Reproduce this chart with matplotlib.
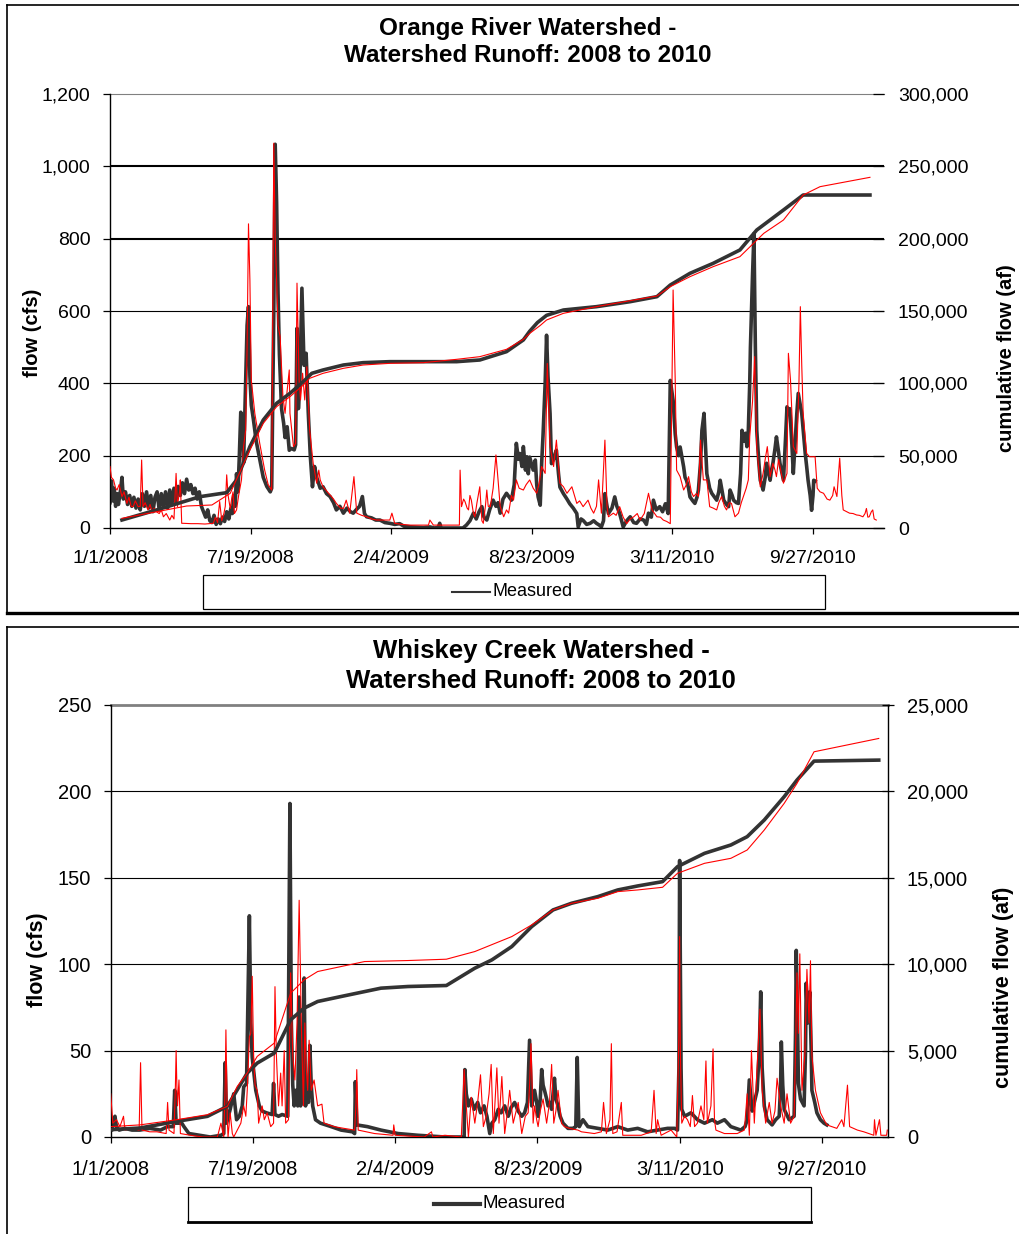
import datetime as dt
import matplotlib
matplotlib.use("Agg")
import matplotlib.pyplot as plt
from matplotlib.lines import Line2D
from matplotlib.patches import Rectangle

plt.rcParams["font.family"] = ["Liberation Sans", "DejaVu Sans"]

W, H = 1019, 1234
DARK = "#333333"
RED = "#ff0000"

START = dt.date(2008, 1, 1)
date_labels = ["1/1/2008", "7/19/2008", "2/4/2009", "8/23/2009", "3/11/2010", "9/27/2010"]

# ---------------- Orange River (day offset from 1/1/2008, value) ----------------
orange_flow_ticks = [0, 200, 400, 600, 800, 1000, 1200]
orange_cum_ticks = [0, 50000, 100000, 150000, 200000, 250000, 300000]

orange_measured = [
    (0, 70), (2, 130), (4, 75), (6, 110), (8, 60), (10, 95), (12, 65), (15, 105), (17, 140), (19, 80),
    (22, 100), (25, 65), (28, 90), (31, 60), (34, 85), (37, 55), (40, 80), (43, 50), (46, 95), (49, 60),
    (52, 100), (55, 55), (58, 90), (61, 45), (64, 85), (67, 100), (70, 50), (73, 95), (76, 60), (79, 100),
    (82, 55), (85, 105), (88, 65), (91, 110), (94, 70), (97, 115), (100, 90), (103, 125), (106, 95),
    (109, 135), (112, 105), (115, 120), (118, 95), (121, 110), (124, 80), (127, 100), (130, 60), (133, 45),
    (136, 30), (139, 50), (142, 20), (145, 15), (148, 35), (151, 10), (154, 25), (157, 12), (160, 30),
    (163, 18), (166, 45), (169, 25), (172, 55), (174, 40), (176, 90), (178, 60), (180, 150), (182, 100),
    (184, 200), (186, 320), (188, 300), (190, 180), (192, 330), (195, 560), (197, 612), (199, 420),
    (201, 340), (204, 300), (208, 240), (213, 190), (218, 140), (223, 115), (228, 100), (230, 110),
    (233, 600), (235, 1061), (237, 900), (239, 650), (241, 480), (244, 330), (247, 290), (249, 250),
    (252, 280), (255, 215), (258, 220), (262, 216), (264, 230), (266, 552), (268, 330), (270, 400),
    (273, 663), (276, 450), (279, 483), (282, 320), (285, 197), (288, 114), (291, 170), (294, 140),
    (299, 110), (303, 114), (308, 95), (313, 87), (318, 70), (322, 50), (327, 60), (332, 41), (337, 55),
    (342, 45), (346, 41), (350, 50), (355, 60), (359, 87), (362, 40), (365, 31), (372, 28), (378, 22),
    (384, 22), (391, 15), (398, 13), (405, 10), (412, 12), (418, 5), (422, 4), (430, 3), (438, 2),
    (446, 1), (455, 3), (462, 0), (467, 2), (469, 13), (471, 0), (480, 0), (490, 0), (502, 0), (507, 8),
    (512, 20), (517, 41), (521, 25), (525, 45), (529, 59), (532, 30), (536, 22), (540, 50), (545, 77),
    (549, 60), (552, 70), (555, 41), (559, 80), (564, 96), (568, 85), (571, 77), (575, 120), (578, 234),
    (581, 190), (583, 206), (586, 170), (588, 225), (591, 160), (593, 197), (595, 150), (597, 196),
    (600, 175), (602, 160), (605, 188), (607, 120), (609, 86), (612, 63), (614, 178), (616, 257),
    (619, 400), (621, 533), (623, 420), (626, 316), (628, 178), (631, 190), (633, 205), (635, 215),
    (638, 150), (640, 113), (645, 95), (650, 80), (654, 67), (659, 55), (664, 40), (666, 3), (670, 25),
    (673, 21), (678, 10), (683, 13), (688, 20), (692, 13), (696, 8), (699, 3), (702, 20), (704, 95),
    (707, 60), (709, 40), (714, 55), (718, 86), (721, 60), (725, 40), (730, 3), (735, 20), (740, 31),
    (745, 15), (749, 13), (754, 25), (759, 22), (763, 10), (766, 41), (770, 30), (773, 77), (777, 50),
    (782, 59), (786, 45), (790, 67), (794, 40), (797, 408), (799, 380), (801, 353), (804, 260), (806, 224),
    (809, 200), (811, 224), (814, 190), (816, 169), (818, 140), (820, 132), (823, 110), (825, 86),
    (829, 75), (832, 68), (835, 85), (837, 105), (840, 180), (842, 270), (845, 317), (847, 230), (849, 150),
    (853, 110), (856, 96), (860, 85), (863, 77), (866, 100), (868, 132), (871, 100), (873, 77), (877, 65),
    (880, 59), (882, 105), (885, 90), (887, 77), (891, 70), (894, 68), (897, 150), (899, 270), (902, 240),
    (904, 262), (906, 225), (908, 270), (910, 400), (911, 500), (914, 700), (916, 814), (918, 500),
    (920, 270), (923, 180), (925, 132), (927, 120), (929, 105), (932, 140), (934, 179), (937, 150),
    (939, 132), (941, 160), (943, 179), (946, 220), (948, 252), (951, 210), (953, 179), (956, 150),
    (958, 132), (961, 250), (963, 335), (965, 320), (967, 330), (970, 230), (972, 151), (975, 250),
    (977, 317), (979, 372), (982, 340), (984, 317), (987, 250), (989, 205), (991, 170), (993, 132),
    (996, 90), (998, 49), (1000, 90), (1001, 132), (1003, 130),
]

orange_simulated = [
    (0, 170), (2, 140), (5, 133), (8, 110), (10, 105), (13, 120), (17, 87), (20, 100), (24, 68), (27, 85),
    (30, 60), (33, 59), (36, 75), (40, 59), (43, 60), (45, 188), (47, 59), (50, 70), (54, 50), (57, 65),
    (60, 45), (63, 55), (66, 45), (70, 40), (73, 50), (76, 31), (80, 40), (85, 22), (88, 35), (91, 25),
    (94, 151), (96, 60), (97, 77), (99, 100), (100, 133), (102, 13), (104, 13), (115, 12), (125, 12),
    (135, 11), (142, 12), (147, 13), (150, 30), (153, 15), (156, 73), (159, 20), (162, 40), (164, 60),
    (166, 147), (168, 90), (171, 54), (173, 80), (175, 100), (177, 40), (180, 50), (183, 90), (187, 133),
    (190, 225), (193, 271), (195, 500), (197, 841), (199, 686), (201, 409), (206, 317), (213, 234),
    (220, 160), (225, 120), (230, 105), (233, 1064), (235, 800), (237, 686), (239, 560), (242, 529),
    (246, 363), (249, 317), (252, 380), (255, 437), (256, 317), (261, 225), (264, 234), (266, 677),
    (269, 409), (271, 354), (274, 428), (277, 354), (280, 446), (284, 271), (289, 179), (294, 124),
    (297, 160), (299, 133), (303, 114), (311, 96), (318, 80), (322, 68), (328, 55), (332, 54), (336, 77),
    (341, 41), (347, 142), (351, 41), (358, 35), (365, 31), (372, 25), (379, 22), (390, 22), (398, 22),
    (401, 41), (405, 13), (415, 10), (427, 8), (440, 8), (453, 8), (455, 22), (460, 8), (475, 8), (493, 8),
    (497, 8), (498, 160), (500, 59), (503, 80), (505, 73), (508, 55), (510, 50), (512, 90), (514, 77),
    (517, 40), (519, 31), (522, 70), (526, 114), (529, 20), (531, 13), (534, 60), (536, 105), (538, 60),
    (541, 59), (545, 110), (549, 202), (552, 133), (555, 60), (560, 31), (564, 50), (567, 41), (571, 90),
    (574, 77), (578, 133), (582, 110), (588, 105), (592, 120), (597, 133), (602, 110), (607, 96),
    (611, 130), (614, 170), (619, 151), (622, 455), (626, 225), (631, 170), (635, 243), (640, 124),
    (645, 114), (650, 96), (657, 114), (664, 68), (668, 75), (673, 59), (680, 77), (684, 55), (688, 41),
    (692, 60), (695, 133), (699, 41), (704, 243), (707, 60), (709, 31), (716, 41), (720, 35), (725, 59),
    (730, 30), (735, 12), (740, 25), (745, 31), (750, 40), (754, 22), (760, 40), (766, 96), (771, 50),
    (778, 31), (783, 30), (787, 22), (792, 18), (797, 12), (801, 658), (804, 409), (806, 160), (811, 142),
    (816, 105), (820, 120), (823, 142), (827, 100), (830, 87), (834, 95), (837, 87), (840, 243), (844, 133),
    (849, 133), (853, 59), (858, 55), (863, 50), (866, 70), (870, 87), (874, 60), (877, 50), (881, 70),
    (884, 68), (889, 31), (894, 41), (898, 70), (901, 87), (905, 110), (908, 133), (910, 253), (914, 350),
    (917, 474), (920, 225), (925, 114), (929, 151), (932, 190), (935, 225), (939, 142), (943, 179),
    (946, 160), (948, 142), (951, 190), (953, 170), (956, 140), (958, 124), (963, 151), (965, 483),
    (968, 409), (972, 225), (977, 206), (980, 400), (982, 612), (984, 450), (986, 317), (991, 206),
    (995, 197), (1003, 197), (1006, 110), (1010, 100), (1015, 96), (1020, 80), (1024, 77), (1028, 90),
    (1030, 114), (1034, 87), (1038, 193), (1041, 90), (1043, 50), (1048, 45), (1052, 41), (1057, 40),
    (1062, 36), (1066, 35), (1071, 31), (1074, 40), (1076, 54), (1078, 30), (1080, 31), (1083, 45),
    (1085, 50), (1087, 25), (1090, 22),
]

orange_cum_measured = [
    (17, 5530), (66, 12440), (128, 21660), (166, 24420), (180, 33180), (199, 56220), (218, 74650),
    (237, 86180), (256, 93090), (275, 101150), (287, 106910), (303, 109220), (332, 112670), (360, 114290),
    (398, 114980), (446, 114980), (493, 114980), (526, 116130), (564, 121890), (588, 130000),
    (597, 136000), (608, 142000), (621, 147000), (645, 150690), (692, 153000), (740, 156450),
    (778, 159910), (797, 167970), (825, 176040), (858, 182950), (896, 192170), (920, 205990),
    (958, 219820), (986, 230180), (1081, 230180),
]

orange_cum_simulated = [
    (17, 6680), (109, 15210), (145, 15900), (171, 23960), (199, 53920), (218, 72350), (237, 83870),
    (256, 90780), (275, 98850), (284, 103460), (303, 106910), (332, 110370), (360, 112670), (398, 113820),
    (446, 114290), (493, 116590), (526, 118430), (564, 123500), (588, 130410), (597, 134500),
    (612, 140000), (621, 143780), (645, 148390), (692, 153000), (740, 157140), (778, 160370),
    (797, 166820), (825, 173730), (858, 180650), (896, 187560), (930, 203690), (958, 212900),
    (986, 230180), (1010, 235940), (1081, 242400),
]

# ---------------- Whiskey Creek ----------------
whiskey_flow_ticks = [0, 50, 100, 150, 200, 250]
whiskey_cum_ticks = [0, 5000, 10000, 15000, 20000, 25000]

whiskey_measured = [
    (0, 8), (2, 4), (4, 10), (6, 12), (8, 6), (12, 4), (20, 5), (30, 4), (41, 4), (55, 5), (70, 4), (80, 6),
    (88, 6), (90, 27), (92, 8), (100, 8), (103, 6), (110, 2), (125, 1), (140, 0), (155, 1), (159, 2),
    (161, 43), (163, 8), (168, 16), (173, 25), (177, 10), (181, 12), (185, 18), (187, 29), (191, 31),
    (193, 80), (195, 128), (197, 66), (199, 46), (204, 27), (209, 18), (213, 15), (219, 14), (227, 13),
    (229, 31), (231, 13), (236, 12), (241, 13), (249, 12), (252, 193), (254, 66), (256, 30), (258, 18),
    (260, 27), (263, 18), (265, 81), (267, 18), (270, 27), (272, 92), (274, 18), (276, 27), (278, 20),
    (280, 53), (282, 30), (284, 18), (288, 10), (295, 8), (310, 6), (324, 4), (340, 3), (343, 2), (344, 32),
    (346, 7), (361, 6), (380, 4), (404, 2), (432, 1), (470, 0), (497, 0), (498, 39), (500, 25), (503, 18),
    (507, 22), (511, 16), (516, 20), (520, 14), (525, 18), (529, 12), (533, 2), (536, 8), (540, 10),
    (545, 16), (549, 14), (554, 18), (559, 12), (563, 17), (568, 20), (573, 15), (578, 12), (582, 14),
    (586, 20), (589, 56), (591, 30), (592, 18), (596, 27), (599, 20), (601, 12), (604, 22), (606, 39),
    (608, 30), (610, 27), (613, 22), (615, 18), (618, 20), (620, 16), (622, 25), (624, 34), (626, 22),
    (629, 18), (632, 12), (636, 8), (643, 5), (650, 5), (654, 6), (656, 46), (658, 10), (659, 6), (664, 10),
    (671, 6), (685, 5), (699, 4), (713, 6), (727, 4), (741, 5), (755, 3), (769, 4), (783, 5), (793, 5),
    (797, 4), (799, 40), (800, 160), (802, 40), (803, 16), (807, 12), (816, 14), (825, 10), (835, 8),
    (846, 10), (853, 8), (863, 10), (872, 6), (886, 4), (892, 6), (895, 10), (898, 33), (902, 15),
    (905, 20), (909, 27), (912, 50), (914, 84), (916, 40), (919, 18), (923, 10), (930, 7), (935, 10),
    (940, 12), (942, 30), (943, 55), (945, 30), (947, 16), (954, 10), (961, 12), (963, 60), (964, 108),
    (966, 60), (967, 31), (970, 22), (975, 18), (977, 50), (978, 89), (980, 66), (983, 84), (985, 50),
    (986, 27), (990, 20), (993, 14), (998, 10), (1003, 8), (1007, 7),
]

whiskey_simulated = [
    (0, 25), (3, 8), (8, 10), (13, 6), (18, 12), (20, 4), (30, 5), (40, 4), (42, 43), (44, 4), (55, 3),
    (65, 3), (78, 2), (80, 20), (82, 4), (89, 2), (91, 30), (92, 50), (93, 30), (94, 18), (96, 33), (98, 2),
    (112, 1), (130, 0), (150, 0), (155, 8), (159, 0), (161, 30), (162, 62), (164, 10), (165, 0), (168, 14),
    (171, 2), (173, 0), (178, 4), (183, 8), (187, 18), (190, 12), (192, 27), (195, 58), (197, 60), (199, 93),
    (201, 47), (203, 30), (206, 27), (208, 8), (213, 18), (216, 10), (220, 14), (225, 6), (229, 8),
    (231, 87), (233, 47), (236, 18), (239, 37), (241, 18), (244, 50), (246, 8), (250, 10), (253, 95),
    (256, 47), (259, 33), (262, 66), (265, 137), (268, 66), (271, 18), (273, 66), (275, 40), (277, 27),
    (279, 56), (282, 27), (286, 33), (291, 18), (297, 19), (300, 8), (314, 6), (328, 5), (343, 4), (345, 20),
    (346, 39), (348, 4), (371, 2), (397, 1), (398, 7), (400, 1), (441, 0), (451, 3), (453, 0), (470, 1),
    (493, 0), (497, 39), (500, 18), (503, 0), (507, 23), (512, 8), (516, 20), (520, 36), (524, 6), (528, 12),
    (532, 25), (535, 42), (538, 2), (543, 40), (546, 8), (550, 35), (554, 2), (558, 15), (561, 27), (566, 8),
    (570, 15), (573, 20), (578, 2), (583, 12), (587, 14), (589, 30), (591, 54), (594, 8), (596, 18),
    (599, 10), (601, 6), (604, 15), (608, 22), (613, 8), (617, 20), (620, 42), (623, 8), (626, 15),
    (629, 27), (634, 8), (638, 6), (645, 5), (657, 4), (662, 3), (680, 2), (690, 3), (693, 20), (697, 2),
    (702, 10), (704, 54), (706, 2), (712, 3), (718, 20), (720, 1), (732, 1), (746, 1), (760, 3), (764, 27),
    (767, 2), (769, 10), (774, 1), (788, 4), (796, 0), (799, 60), (800, 116), (801, 50), (803, 8), (807, 12),
    (811, 10), (815, 6), (818, 24), (821, 6), (825, 8), (830, 18), (834, 10), (837, 44), (839, 8), (844, 18),
    (847, 51), (849, 10), (851, 4), (857, 3), (863, 2), (872, 2), (881, 2), (891, 4), (895, 25), (898, 1),
    (901, 50), (905, 8), (909, 41), (913, 74), (916, 27), (921, 8), (926, 20), (930, 8), (934, 15),
    (937, 34), (942, 18), (947, 8), (951, 25), (956, 8), (961, 12), (963, 50), (965, 95), (967, 60),
    (969, 106), (972, 27), (976, 47), (979, 97), (982, 66), (984, 102), (986, 47), (991, 27), (998, 14),
    (1003, 10), (1007, 7), (1014, 6), (1021, 5), (1028, 10), (1031, 6), (1036, 30), (1039, 6), (1050, 4),
    (1059, 3), (1073, 1), (1074, 10), (1076, 1), (1081, 10), (1083, 1), (1091, 1), (1092, 4),
]

whiskey_cum_measured = [
    (0, 424), (41, 520), (93, 906), (136, 1195), (164, 1773), (178, 2736), (192, 3699), (206, 4277),
    (230, 4855), (253, 6782), (272, 7457), (291, 7842), (324, 8131), (380, 8613), (418, 8709),
    (472, 8767), (512, 9769), (536, 10250), (564, 11021), (592, 12177), (622, 13141), (648, 13526),
    (685, 13911), (713, 14297), (741, 14528), (776, 14778), (797, 15645), (835, 16416), (872, 16898),
    (895, 17380), (919, 18343), (947, 19692), (965, 20655), (989, 21753), (1080, 21811),
]

whiskey_cum_simulated = [
    (0, 600), (41, 700), (93, 1002), (136, 1291), (164, 1773), (178, 2929), (192, 3699), (206, 4663),
    (230, 5434), (253, 8324), (272, 9094), (291, 9576), (324, 9865), (357, 10154), (418, 10212),
    (472, 10289), (512, 10732), (564, 11599), (592, 12274), (622, 13141), (648, 13526), (685, 13815),
    (713, 14200), (741, 14297), (776, 14451), (797, 15260), (835, 15838), (872, 16127), (895, 16609),
    (919, 17765), (947, 19306), (965, 20462), (989, 22293), (1080, 23064),
]


def fx(px):
    return px / W


def fy(py):
    return 1 - py / H


date_ticks = [(dt.datetime.strptime(s, "%m/%d/%Y").date() - START).days for s in date_labels]

fig = plt.figure(figsize=(W / 100, H / 100), dpi=100)


def draw_panel(left, top, right, bottom, xmax, flow_ticks, cum_ticks, meas, sim, cmeas, csim,
               heavy_grid, top_grid_lw, right_spine, fs, xpad):
    ax = fig.add_axes([fx(left), fy(bottom), fx(right) - fx(left), fy(top) - fy(bottom)])
    ax.set_xlim(0, xmax)
    ax.set_ylim(0, flow_ticks[-1])
    for v in flow_ticks[1:]:
        if v == flow_ticks[-1]:
            ax.axhline(v, color="#808080", lw=top_grid_lw, zorder=0.5, clip_on=False)
        else:
            ax.axhline(v, color="black", lw=1.5 if v in heavy_grid else 0.8, zorder=0.5)
    d, q = zip(*meas)
    ax.plot(d, q, color=DARK, lw=2.6, zorder=2, solid_joinstyle="round")
    d, q = zip(*sim)
    ax.plot(d, q, color=RED, lw=0.8, zorder=3)
    for s in ("top", "right"):
        ax.spines[s].set_visible(False)
    ax.spines["left"].set_linewidth(1.0)
    ax.spines["bottom"].set_linewidth(1.0)
    ax.set_yticks(flow_ticks)
    ax.set_yticklabels([f"{v:,}" for v in flow_ticks])
    ax.set_xticks(date_ticks)
    ax.set_xticklabels(date_labels)
    ax.tick_params(axis="y", direction="out", length=5, width=0.9, pad=9, labelsize=fs)
    ax.tick_params(axis="x", direction="out", length=4.5, width=0.9, pad=xpad, labelsize=fs)

    ax2 = ax.twinx()
    ax2.set_ylim(0, cum_ticks[-1])
    d, c = zip(*cmeas)
    ax2.plot(d, c, color=DARK, lw=2.6, zorder=4, solid_joinstyle="round")
    d, c = zip(*csim)
    ax2.plot(d, c, color=RED, lw=0.8, zorder=5)
    for s in ("top", "left", "bottom"):
        ax2.spines[s].set_visible(False)
    ax2.spines["right"].set_visible(right_spine)
    ax2.spines["right"].set_linewidth(1.0)
    ax2.set_yticks(cum_ticks)
    ax2.set_yticklabels([f"{v:,}" for v in cum_ticks])
    if right_spine:
        ax2.tick_params(axis="y", direction="inout", length=9, width=0.9, pad=9, labelsize=fs)
    else:
        ax2.tick_params(axis="y", direction="in", length=8, width=0.9, pad=10, labelsize=fs)
    return ax, ax2


# ---- Orange River panel ----
draw_panel(110, 94, 884, 528, 1101, orange_flow_ticks, orange_cum_ticks,
           orange_measured, orange_simulated, orange_cum_measured, orange_cum_simulated,
           heavy_grid=(800, 1000), top_grid_lw=0.8, right_spine=False, fs=14, xpad=11.5)
fig.text(fx(528), fy(29), "Orange River Watershed -", ha="center", va="center",
         fontsize=17.5, fontweight="bold")
fig.text(fx(528), fy(56), "Watershed Runoff: 2008 to 2010", ha="center", va="center",
         fontsize=17.5, fontweight="bold")
fig.text(fx(33), fy(333), "flow (cfs)", rotation=90, ha="center", va="center",
         fontsize=14.5, fontweight="bold")
fig.text(fx(1006), fy(358), "cumulative flow (af)", rotation=90, ha="center", va="center",
         fontsize=14.5, fontweight="bold")

# ---- Whiskey Creek panel ----
draw_panel(110.7, 705, 888, 1137, 1093, whiskey_flow_ticks, whiskey_cum_ticks,
           whiskey_measured, whiskey_simulated, whiskey_cum_measured, whiskey_cum_simulated,
           heavy_grid=(), top_grid_lw=2.0, right_spine=True, fs=14.5, xpad=12)
fig.text(fx(541), fy(651), "Whiskey Creek Watershed -", ha="center", va="center",
         fontsize=18.5, fontweight="bold")
fig.text(fx(541), fy(681), "Watershed Runoff: 2008 to 2010", ha="center", va="center",
         fontsize=18.5, fontweight="bold")
fig.text(fx(38), fy(960), "flow (cfs)", rotation=90, ha="center", va="center",
         fontsize=15.5, fontweight="bold")
fig.text(fx(1003), fy(987), "cumulative flow (af)", rotation=90, ha="center", va="center",
         fontsize=15.5, fontweight="bold")

# ---- legends ----
fig.add_artist(Rectangle((fx(203), fy(609)), fx(825) - fx(203), fy(575) - fy(609),
                         transform=fig.transFigure, fill=False, ec="black", lw=0.9))
fig.add_artist(Line2D([fx(452), fx(490)], [fy(592), fy(592)], transform=fig.transFigure,
                      color=DARK, lw=1.5))
fig.text(fx(493), fy(592), "Measured", ha="left", va="center", fontsize=13)

fig.add_artist(Rectangle((fx(188), fy(1222)), fx(811) - fx(188), fy(1187) - fy(1222),
                         transform=fig.transFigure, fill=False, ec="black", lw=0.9))
fig.add_artist(Line2D([fx(188), fx(811)], [fy(1222), fy(1222)], transform=fig.transFigure,
                      color="black", lw=2.0))
fig.add_artist(Line2D([fx(434), fx(480)], [fy(1204), fy(1204)], transform=fig.transFigure,
                      color=DARK, lw=3.0))
fig.text(fx(482), fy(1204), "Measured", ha="left", va="center", fontsize=13.5)

# ---- panel frames ----
frame = dict(transform=fig.transFigure, color="black")
fig.add_artist(Line2D([fx(7), fx(1019)], [fy(5), fy(5)], lw=1.2, **frame))
fig.add_artist(Line2D([fx(7), fx(7)], [fy(5), fy(613)], lw=1.2, **frame))
fig.add_artist(Line2D([fx(7), fx(1019)], [fy(613), fy(613)], lw=2.4, **frame))
fig.add_artist(Line2D([fx(7), fx(1019)], [fy(627), fy(627)], lw=1.2, **frame))
fig.add_artist(Line2D([fx(7), fx(7)], [fy(627), fy(1234)], lw=1.2, **frame))

fig.savefig("out.png", dpi=100)
